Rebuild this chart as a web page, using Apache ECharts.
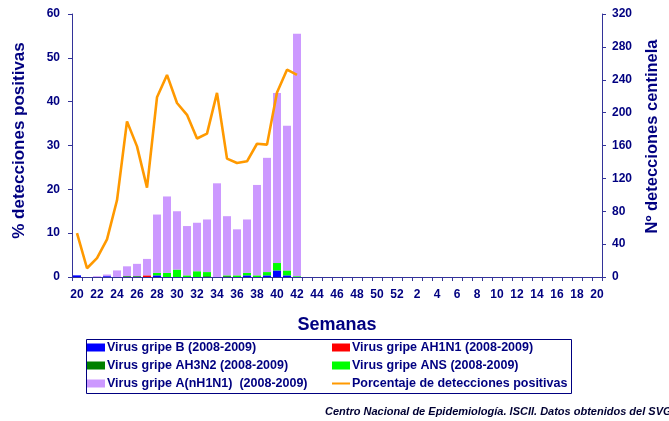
<!DOCTYPE html>
<html>
<head>
<meta charset="utf-8">
<script src="https://cdn.jsdelivr.net/npm/echarts@6/dist/echarts.min.js"></script>
<style>
html,body{margin:0;padding:0;background:#fff;}
#c{width:669px;height:421px;}
</style>
</head>
<body>
<div id="c"></div>
<script>
// Categories: epidemiological weeks 20..52 then 1..20
var weeks = ['20','21','22','23','24','25','26','27','28','29','30','31','32','33','34','35','36','37','38','39','40','41','42','43','44','45','46','47','48','49','50','51','52','1','2','3','4','5','6','7','8','9','10','11','12','13','14','15','16','17','18','19','20'];
// Counts (weeks 20..42)
var virusB     = [2,0,0,1,0,0,0,0,2,0,0,0,0,0,0,0,0,2,0,2,8,2,0];
var virusAH1N1 = [0,0,0,0,0,0,0,2,0,0,0,0,0,0,0,0,0,0,0,0,0,0,0];
var virusAH3N2 = [0,0,0,0,0,1,1,0,0,0,0,0,0,1,0,1,0,0,0,0,0,0,0];
var virusANS   = [0,0,0,0,0,0,0,0,3,5,9,2,7,5,0,1,2,3,2,4,9,6,1];
var virusANH1N1= [0,0,1,2,8,12,15,20,71,93,71,60,59,64,114,72,56,65,110,139,207,176,295];
// Percentage of positive detections
var pctPositive = [10,2,4.3,8.6,17.5,35.5,29.8,20.4,41,46.1,39.7,37,31.6,32.7,42,27,26,26.4,30.4,30.2,42.1,47.3,46.1];
var leftTicks = [0,10,20,30,40,50,60];
var rightTicks = [0,40,80,120,160,200,240,280,320];

var navy = '#000080';
var axisCol = '#333399';
var font = 'Liberation Sans, Arial, sans-serif';

var chart = echarts.init(document.getElementById('c'), null, {renderer:'canvas'});

function barSeries(name, data, color){
  return {name:name, type:'bar', stack:'v', yAxisIndex:1, data:data,
    barWidth:'80%', itemStyle:{color:color}, animation:false};
}

var legendText = {color:navy, fontFamily:font, fontWeight:'bold', fontSize:12.5, padding:[0,0,0,-3]};

var option = {
  animation:false,
  backgroundColor:'#fff',
  grid:{left:72, right:60, top:14, bottom:144, containLabel:false},
  xAxis:{
    type:'category', data:weeks, boundaryGap:true,
    axisLine:{lineStyle:{color:axisCol, width:1}},
    axisTick:{show:true, interval:0, length:4, inside:false, lineStyle:{color:axisCol}},
    axisLabel:{interval:1, color:navy, fontFamily:font, fontWeight:'bold', fontSize:12, margin:12},
    name:'Semanas', nameLocation:'middle', nameGap:39,
    nameTextStyle:{color:navy, fontFamily:font, fontWeight:'bold', fontSize:18}
  },
  yAxis:[{
    type:'value', min:leftTicks[0], max:leftTicks[leftTicks.length-1], interval:10, position:'left',
    splitLine:{show:false},
    axisLine:{show:true, lineStyle:{color:axisCol}},
    axisTick:{show:true, length:4, lineStyle:{color:axisCol}},
    axisLabel:{color:navy, fontFamily:font, fontWeight:'bold', fontSize:12, margin:12},
    name:'% detecciones positivas', nameLocation:'middle', nameRotate:90, nameGap:44,
    nameTextStyle:{color:navy, fontFamily:font, fontWeight:'bold', fontSize:17, padding:[0,0,0,10]}
  },{
    type:'value', min:rightTicks[0], max:rightTicks[rightTicks.length-1], interval:40, position:'right',
    splitLine:{show:false},
    axisLine:{show:true, lineStyle:{color:axisCol}},
    axisTick:{show:true, length:4, lineStyle:{color:axisCol}},
    axisLabel:{color:navy, fontFamily:font, fontWeight:'bold', fontSize:12, margin:10},
    name:'Nº detecciones centinela', nameLocation:'middle', nameRotate:90, nameGap:42,
    nameTextStyle:{color:navy, fontFamily:font, fontWeight:'bold', fontSize:16.5, padding:[0,0,0,18]}
  }],
  legend:[{
    orient:'vertical', left:87, top:341, padding:0, itemWidth:18, itemHeight:8, itemGap:5,
    textStyle:legendText,
    data:[{name:'Virus gripe B (2008-2009)', icon:'rect'},{name:'Virus gripe AH3N2 (2008-2009)', icon:'rect'},{name:'Virus gripe A(nH1N1)  (2008-2009)', icon:'rect'}]
  },{
    orient:'vertical', left:331, top:341, padding:0, itemWidth:18, itemHeight:8, itemGap:5,
    textStyle:legendText,
    data:[{name:'Virus gripe AH1N1 (2008-2009)', icon:'rect'},{name:'Virus gripe ANS (2008-2009)', icon:'rect'},
      {name:'Porcentaje de detecciones positivas', itemStyle:{opacity:0}, lineStyle:{color:'#FF9900', width:2}}]
  }],
  graphic:[{
    type:'rect', left:84, top:337, shape:{width:485, height:54},
    style:{fill:null, stroke:navy, lineWidth:1}, silent:true
  },{
    type:'text', left:325, top:406,
    style:{text:'Centro Nacional de Epidemiología. ISCII. Datos obtenidos del SVGE', fill:'#000033',
      font:'italic bold 11px Liberation Sans, Arial, sans-serif'}
  }],
  series:[
    barSeries('Virus gripe B (2008-2009)', virusB, '#0000FF'),
    barSeries('Virus gripe AH1N1 (2008-2009)', virusAH1N1, '#FF0000'),
    barSeries('Virus gripe AH3N2 (2008-2009)', virusAH3N2, '#008000'),
    barSeries('Virus gripe ANS (2008-2009)', virusANS, '#00FF00'),
    barSeries('Virus gripe A(nH1N1)  (2008-2009)', virusANH1N1, '#CC99FF'),
    {name:'Porcentaje de detecciones positivas', type:'line', yAxisIndex:0, data:pctPositive,
      symbol:'none', lineStyle:{color:'#FF9900', width:2.6}, itemStyle:{color:'#FF9900'}, z:5}
  ]
};
chart.setOption(option);
</script>
</body>
</html>
